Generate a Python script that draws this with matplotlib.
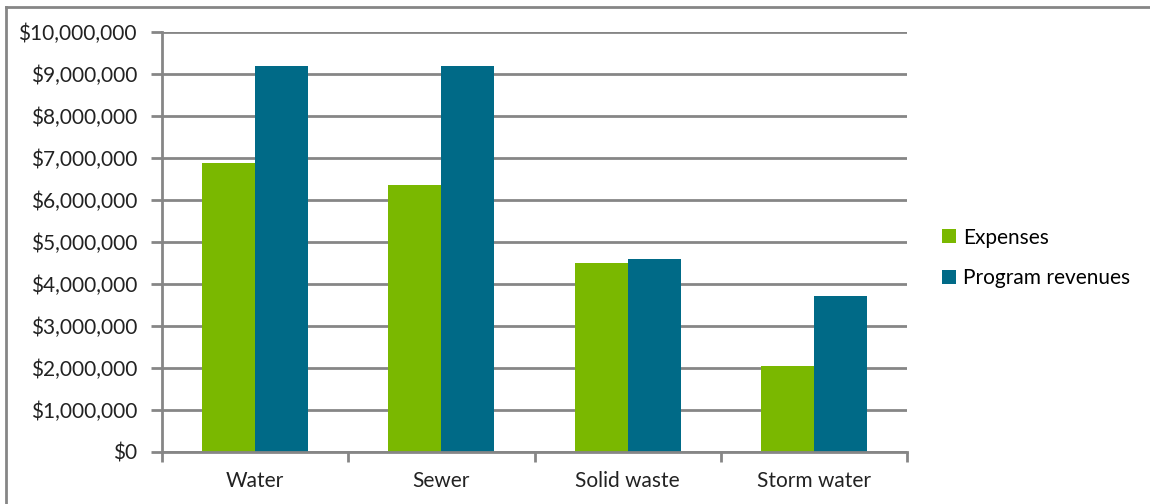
import matplotlib.pyplot as plt
import numpy as np
from matplotlib.ticker import FuncFormatter
from matplotlib.lines import Line2D

categories = ["Water", "Sewer", "Solid waste", "Storm water"]
expenses = [6880000, 6350000, 4490000, 2050000]
revenues = [9180000, 9180000, 4590000, 3720000]

green = "#7ab800"
blue = "#006a87"
grid = "#868686"

plt.rcParams['font.family'] = ['Lato', 'DejaVu Sans']

fig = plt.figure(figsize=(11.5, 5.04), dpi=100)
ax = fig.add_axes([162 / 1150, 1 - 452 / 504, 745 / 1150, 420 / 504])

x = np.arange(len(categories))
w = 0.285
ax.bar(x - w / 2, expenses, w, color=green, label="Expenses")
ax.bar(x + w / 2, revenues, w, color=blue, label="Program revenues")

ax.set_xlim(-0.5, len(categories) - 0.5)
ax.set_ylim(0, 10000000)
ax.set_yticks(np.arange(0, 10000001, 1000000))
ax.yaxis.set_major_formatter(FuncFormatter(lambda v, p: "${:,.0f}".format(v)))
ax.grid(axis='y', color=grid, linewidth=2)
ax.set_axisbelow(True)

ax.set_xticks(x)
ax.set_xticklabels(categories)
ax.set_xticks(np.arange(-0.5, len(categories), 1), minor=True)
ax.tick_params(axis='x', which='major', length=0, pad=14, labelsize=15, colors='#222222')
ax.tick_params(axis='x', which='minor', length=7, width=2, color=grid)
ax.tick_params(axis='y', length=8, width=2, color=grid, pad=10, labelsize=15, labelcolor='#222222')

for s in ['top', 'right']:
    ax.spines[s].set_visible(False)
for s in ['left', 'bottom']:
    ax.spines[s].set_color(grid)
    ax.spines[s].set_linewidth(2)

ax.legend(loc='center left', bbox_to_anchor=(1.022, 0.462), frameon=False, fontsize=15,
          handlelength=0.65, handleheight=0.65, handletextpad=0.35, labelspacing=1.0)

# outer frame of the picture
fig.add_artist(Line2D([6 / 1150, 6 / 1150], [0, 1 - 7 / 504], color=grid, linewidth=2))
fig.add_artist(Line2D([6 / 1150, 1], [1 - 7 / 504, 1 - 7 / 504], color=grid, linewidth=2))

plt.savefig("out.png")
